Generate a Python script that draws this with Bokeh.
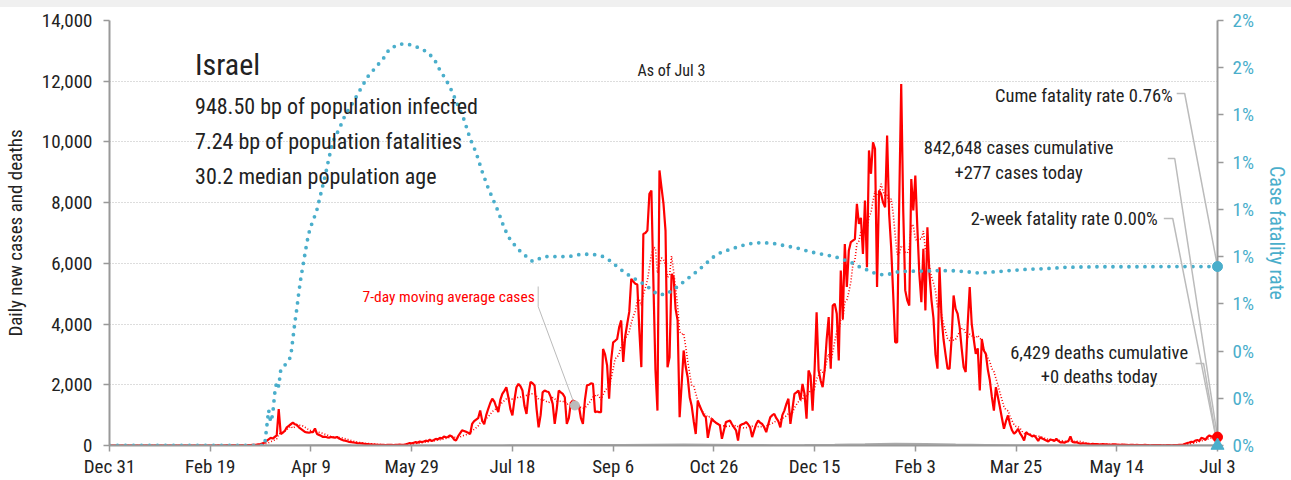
import pandas as pd
import numpy as np
from bokeh.plotting import figure
from bokeh.layouts import column
from bokeh.models import (Range1d, LinearAxis, FixedTicker, PrintfTickFormatter, Div,
                          NumeralTickFormatter, CustomJSTickFormatter, Label, ColumnDataSource)
from bokeh.embed import file_html
from bokeh.resources import INLINE

# ---------------- data ----------------
start_date = "2019-12-31"
end_date = "2021-07-03"

# daily new cases, one value per day from Dec 31, 2019
cases = (
    [0]
    # Jan 2020
    + [0, 0, 0, 0, 0, 0, 0, 0, 0, 0, 0, 0, 0, 0, 0, 0, 0, 0, 0, 0, 0, 0, 0, 0, 0, 0, 0, 0, 0, 0, 0]
    # Feb 2020
    + [0, 0, 0, 0, 0, 0, 0, 0, 0, 0, 0, 0, 0, 0, 0, 0, 0, 0, 0, 0, 1, 0, 1, 0, 0, 0, 1, 2, 1]
    # Mar 2020
    + [3, 2, 3, 5, 4, 6, 3, 8, 12, 15, 20, 25, 30, 40, 50, 70, 100, 150, 200, 250, 230, 280, 330,
       1200, 380, 420, 480, 600, 650, 700, 750]
    # Apr 2020
    + [700, 680, 600, 550, 500, 450, 430, 420, 440, 440, 560, 380, 350, 320, 280, 290, 270, 260,
       280, 270, 260, 280, 230, 200, 170, 160, 140, 120, 110, 100]
    # May 2020
    + [90, 80, 75, 70, 60, 50, 45, 40, 35, 30, 30, 25, 20, 25, 20, 15, 20, 25, 20, 15, 20, 25, 30,
       20, 25, 40, 60, 80, 70, 90, 110]
    # Jun 2020
    + [90, 130, 110, 130, 160, 140, 190, 150, 180, 220, 200, 250, 230, 300, 270, 280, 330, 300,
       200, 165, 300, 400, 500, 480, 450, 420, 380, 710, 800, 850]
    # Jul 2020
    + [900, 1150, 820, 700, 1000, 1210, 1400, 1540, 1450, 1260, 1100, 1500, 1700, 1800, 1920, 1590,
       1200, 990, 1500, 1920, 2030, 1950, 1810, 1300, 1040, 1700, 2090, 2050, 1980, 1200, 600]
    # Aug 2020
    + [1000, 1750, 1810, 1780, 1760, 1600, 1370, 710, 1200, 1810, 1750, 1700, 1590, 710, 900, 1400,
       1480, 1450, 1370, 1300, 900, 710, 1500, 1980, 2000, 2050, 2030, 1100, 1120, 1100, 1100]
    # Sep 2020
    + [3180, 3000, 2640, 1540, 2800, 3400, 3450, 3510, 3900, 4120, 2750, 3600, 4010, 4400, 5490,
       5400, 5330, 5300, 3800, 2580, 6970, 7000, 7080, 8290, 8400, 5330, 2500, 1150, 9060, 8500]
    # Oct 2020
    + [7960, 7080, 2580, 2910, 5650, 5550, 4500, 4120, 930, 2000, 3130, 2600, 2250, 1590, 1300, 800,
       380, 1480, 1300, 1150, 1000, 930, 250, 600, 880, 800, 750, 710, 660, 220, 500]
    # Nov 2020
    + [770, 800, 820, 700, 600, 500, 165, 660, 700, 720, 770, 700, 600, 275, 500, 700, 820, 750, 710,
       600, 440, 700, 930, 1000, 1040, 900, 800, 600, 1000, 1150]
    # Dec 2020
    + [1370, 1540, 710, 1200, 1700, 1750, 1810, 1500, 2030, 1700, 880, 2470, 2300, 1150, 2500, 4390,
       2470, 2140, 1920, 2500, 3500, 4230, 2530, 4610, 4670, 4340, 2800, 5760, 4170, 6640, 5220]
    # Jan 2021
    + [6420, 6700, 6750, 6800, 7960, 7300, 7500, 6310, 8070, 5870, 9720, 8950, 9990, 9770, 5220,
       8400, 8290, 8000, 7850, 10210, 7630, 6530, 5000, 3400, 3400, 8000, 11910, 7740, 5110, 4780, 4610]
    # Feb 2021
    + [8780, 7740, 8890, 7190, 5650, 4720, 6480, 4450, 7190, 5650, 4800, 4200, 3000, 2530, 5870,
       4230, 3500, 3000, 2530, 2530, 3500, 4940, 4500, 4340, 3900, 3200, 2580, 2420]
    # Mar 2021
    + [4000, 5220, 4010, 3500, 3020, 3200, 1810, 3510, 3130, 3020, 2500, 2140, 1600, 1150, 1920,
       1600, 1260, 900, 550, 800, 990, 700, 500, 385, 450, 550, 400, 300, 165, 440, 380]
    # Apr 2021
    + [350, 300, 330, 250, 150, 275, 230, 200, 165, 130, 200, 180, 150, 220, 150, 100, 110, 90, 120,
       150, 300, 120, 100, 110, 80, 60, 70, 65, 60, 50]
    # May 2021
    + [40, 55, 50, 45, 40, 30, 45, 40, 35, 30, 25, 40, 35, 30, 25, 20, 30, 25, 20, 15, 25, 20, 15,
       20, 15, 10, 15, 20, 15, 10, 8]
    # Jun 2021
    + [15, 12, 10, 15, 10, 8, 5, 10, 12, 8, 10, 15, 12, 20, 25, 30, 60, 80, 100, 125, 110, 165, 180,
       150, 250, 230, 190, 280, 330, 300]
    # Jul 2021
    + [275, 300, 277]
)

# daily deaths (approximate, every 15 days)
deaths_dates = ["2019-12-31", "2020-03-15", "2020-03-30", "2020-04-14", "2020-04-29", "2020-05-14",
                "2020-05-29", "2020-06-13", "2020-06-28", "2020-07-13", "2020-07-28", "2020-08-12",
                "2020-08-27", "2020-09-11", "2020-09-26", "2020-10-11", "2020-10-26", "2020-11-10",
                "2020-11-25", "2020-12-10", "2020-12-25", "2021-01-09", "2021-01-24", "2021-02-08",
                "2021-02-23", "2021-03-10", "2021-03-25", "2021-04-09", "2021-04-24", "2021-05-09",
                "2021-05-24", "2021-06-08", "2021-06-23", "2021-07-03"]
deaths = [0, 0, 2, 10, 5, 2, 1, 0, 1, 4, 8, 12, 15, 18, 28, 35, 25, 15, 12, 15, 25, 40, 60, 50,
          30, 20, 10, 5, 3, 1, 1, 0, 0, 0]

# cumulative case fatality rate (%), days since Dec 31, 2019
cfr_days = [0, 77, 79, 80, 81, 82, 83, 84, 85, 86, 87, 88, 89, 90, 91, 92, 93, 94, 95, 96, 97, 98,
            99, 100, 101, 103, 105, 107, 109, 111, 114, 117, 120, 124, 128, 132, 136, 139, 144, 148,
            152, 157, 161, 164, 167, 170, 173, 176, 179, 182, 185, 188, 190, 193, 196, 199, 203, 207,
            210, 213, 216, 222, 228, 234, 240, 245, 249, 253, 258, 262, 266, 269, 272, 276, 280, 283,
            286, 289, 292, 296, 300, 304, 308, 313, 318, 324, 330, 336, 342, 348, 354, 360, 365, 369,
            372, 375, 378, 381, 384, 388, 392, 398, 405, 412, 420, 428, 432, 440, 447, 455, 465, 475,
            490, 510, 530, 550]
cfr = [0, 0, 0.15, 0.10, 0.13, 0.22, 0.27, 0.25, 0.32, 0.33, 0.34, 0.35, 0.36, 0.38, 0.45, 0.52,
       0.58, 0.65, 0.71, 0.76, 0.81, 0.86, 0.90, 0.93, 0.95, 1.00, 1.07, 1.14, 1.22, 1.29, 1.34, 1.40,
       1.44, 1.50, 1.56, 1.60, 1.64, 1.68, 1.70, 1.70, 1.69, 1.67, 1.64, 1.59, 1.55, 1.50, 1.44, 1.38,
       1.30, 1.24, 1.16, 1.09, 1.05, 0.99, 0.92, 0.87, 0.83, 0.80, 0.78, 0.79, 0.80, 0.80, 0.80, 0.81,
       0.81, 0.80, 0.78, 0.75, 0.72, 0.70, 0.68, 0.66, 0.64, 0.64, 0.66, 0.68, 0.70, 0.72, 0.74, 0.77,
       0.80, 0.82, 0.83, 0.845, 0.855, 0.86, 0.855, 0.845, 0.835, 0.82, 0.81, 0.80, 0.785, 0.772,
       0.758, 0.748, 0.735, 0.727, 0.723, 0.727, 0.737, 0.738, 0.739, 0.741, 0.740, 0.734, 0.730,
       0.736, 0.741, 0.746, 0.749, 0.755, 0.757, 0.757, 0.758, 0.758]
two_week_cfr_today = 0.0

x_tick_dates = ["2019-12-31", "2020-02-19", "2020-04-09", "2020-05-29", "2020-07-18", "2020-09-06",
                "2020-10-26", "2020-12-15", "2021-02-03", "2021-03-25", "2021-05-14", "2021-07-03"]
y_ticks = [0, 2000, 4000, 6000, 8000, 10000, 12000, 14000]
cfr_ticks = [0, 0.2, 0.4, 0.6, 0.8, 1.0, 1.2, 1.4, 1.6, 1.8]
ma_label_date = "2020-08-18"

title = "Israel"
stats = ["948.50 bp of population infected", "7.24 bp of population fatalities",
         "30.2 median population age"]

# ---------------- build ----------------
FONT = "'Roboto Condensed', 'Liberation Sans Narrow', 'DejaVu Sans Condensed', sans-serif"
RED = "#ff0000"
BLUE = "#4aaecb"
GREY = "#aaaaaa"
TXT = "#222222"

t0 = pd.Timestamp(start_date)
t1 = pd.Timestamp(end_date)
dates = pd.date_range(t0, periods=len(cases), freq="D")
ma = pd.Series(cases, dtype=float).rolling(7).mean()
src = ColumnDataSource(dict(date=dates, cases=cases, ma=ma))
cfr_dates = t0 + pd.to_timedelta(cfr_days, unit="D")

YMAX = 14000
CMAX = 1.8

p = figure(width=1291, height=473, x_axis_type="datetime",
           x_range=Range1d(t0, t1), y_range=Range1d(0, YMAX),
           output_backend="svg", toolbar_location=None,
           min_border_left=107, min_border_right=70, min_border_top=13, min_border_bottom=35)
p.margin = 0
p.extra_y_ranges = {"cfr": Range1d(0, CMAX)}
p.outline_line_color = None
p.background_fill_color = "white"
p.border_fill_color = "white"

# grid
p.xgrid.grid_line_color = None
p.ygrid.grid_line_color = "#bbbbbb"
p.ygrid.grid_line_dash = "1 2"
p.ygrid.grid_line_width = 1
p.ygrid.ticker = FixedTicker(ticks=y_ticks)

# left axis
ya = p.yaxis[0]
ya.ticker = FixedTicker(ticks=y_ticks)
ya.formatter = NumeralTickFormatter(format="0,0")
ya.axis_label = "Daily new cases and deaths"
ya.axis_label_text_font = FONT
ya.axis_label_text_font_size = "19px"
ya.axis_label_text_font_style = "normal"
ya.axis_label_text_color = TXT
ya.axis_label_standoff = 12

# x axis
xa = p.xaxis[0]
tick_ms = [pd.Timestamp(d).value / 1e6 for d in x_tick_dates]
xa.ticker = FixedTicker(ticks=tick_ms)
xa.formatter = CustomJSTickFormatter(code="""
const m = ['Jan','Feb','Mar','Apr','May','Jun','Jul','Aug','Sep','Oct','Nov','Dec'];
const d = new Date(tick);
return m[d.getUTCMonth()] + ' ' + d.getUTCDate();
""")

# right axis
ra = LinearAxis(y_range_name="cfr", axis_label="Case fatality rate")
ra.ticker = FixedTicker(ticks=cfr_ticks)
ra.formatter = PrintfTickFormatter(format="%.0f%%")
ra.major_label_text_color = BLUE
ra.axis_label_text_color = BLUE
ra.axis_label_text_font = FONT
ra.axis_label_text_font_size = "20px"
ra.axis_label_text_font_style = "normal"
ra.axis_label_standoff = 8
p.add_layout(ra, "right")

for ax in [ya, xa, ra]:
    ax.axis_line_color = "#999999"
    ax.axis_line_width = 2
    ax.major_tick_line_color = "#999999"
    ax.major_tick_line_width = 1.5
    ax.major_tick_out = 6
    ax.major_tick_in = 0
    ax.minor_tick_line_color = None
    ax.major_label_text_font = FONT
    ax.major_label_text_font_size = "19px"
    ax.major_label_standoff = 9
ya.major_label_standoff = 11
xa.major_label_standoff = 3
xa.major_label_text_color = TXT
ya.major_label_text_color = TXT

# series
p.line(pd.to_datetime(deaths_dates), deaths, line_color=GREY, line_width=2)
p.line("date", "ma", source=src, line_color=RED, line_width=1.6, line_dash="1 2")
p.line("date", "cases", source=src, line_color=RED, line_width=2.2)
p.line(cfr_dates, cfr, y_range_name="cfr", line_color=BLUE, line_width=3.8,
       line_dash="0 8", line_cap="round")

# helpers for label placement (page pixel -> data)
span = (t1 - t0)
def X(px):
    return t0 + span * ((px - 107) / 1114.0)
def Y(py):
    return (445 - py) / 425.0 * YMAX

# leader lines
cfr_to_y = YMAX / CMAX
LEAD = "#bbbbbb"
last_date = dates[-1]
ma_idx = int((pd.Timestamp(ma_label_date) - t0).days)
p.line([X(1180), X(1188), last_date], [Y(93), Y(93), cfr[-1] * cfr_to_y], line_color=LEAD, line_width=1.5)
p.line([X(1171), X(1178), last_date], [Y(158), Y(158), cases[-1]], line_color=LEAD, line_width=1.5)
p.line([X(1167), X(1176), last_date], [Y(218), Y(218), two_week_cfr_today], line_color=LEAD, line_width=1.5)
p.line([X(1199), X(1207), last_date], [Y(363), Y(363), 0], line_color=LEAD, line_width=1.5)
p.line([X(538), X(538), dates[ma_idx]], [Y(286), Y(306), ma[ma_idx]], line_color=LEAD, line_width=1)

# end markers (overlay level so they are not clipped at the frame edge)
p.scatter([last_date], [cases[-1]], marker="circle", size=10, color=RED, level="overlay")
p.scatter([last_date], [cfr[-1]], y_range_name="cfr", marker="circle", size=10, color=BLUE,
          level="overlay")
p.scatter([last_date], [two_week_cfr_today], y_range_name="cfr", marker="triangle", size=13,
          color=BLUE, level="overlay")
p.scatter([dates[ma_idx]], [ma[ma_idx]], marker="circle", size=9, color="#bbbbbb", level="overlay")

def lab(px, py, text, size="18px", align="left", color=TXT):
    p.add_layout(Label(x=X(px), y=Y(py), text=text, text_font=FONT, text_font_size=size,
                       text_align=align, text_baseline="middle", text_color=color))

lab(193, 64, title, size="30px")
lab(193, 106, stats[0], size="22px")
lab(193, 141, stats[1], size="22px")
lab(193, 176, stats[2], size="22px")
lab(672, 70, "As of Jul 3", size="16px", align="center")
lab(448, 296, "7-day moving average cases", size="15.5px", align="center", color=RED)
lab(1176, 95, "Cume fatality rate 0.76%", size="18.5px", align="right")
lab(1021, 147, "842,648 cases cumulative", size="18.5px", align="center")
lab(1021, 172, "+277 cases today", size="18.5px", align="center")
lab(1161, 218, "2-week fatality rate 0.00%", size="18.5px", align="right")
lab(1102, 352, "6,429 deaths cumulative", size="18.5px", align="center")
lab(1102, 376, "+0 deaths today", size="18.5px", align="center")

band = Div(width=1291, height=7, margin=0, styles={"background-color": "#f0f0f0"})
layout = column(band, p, spacing=0, margin=0)

open("out.html", "w").write(file_html(layout, INLINE))
